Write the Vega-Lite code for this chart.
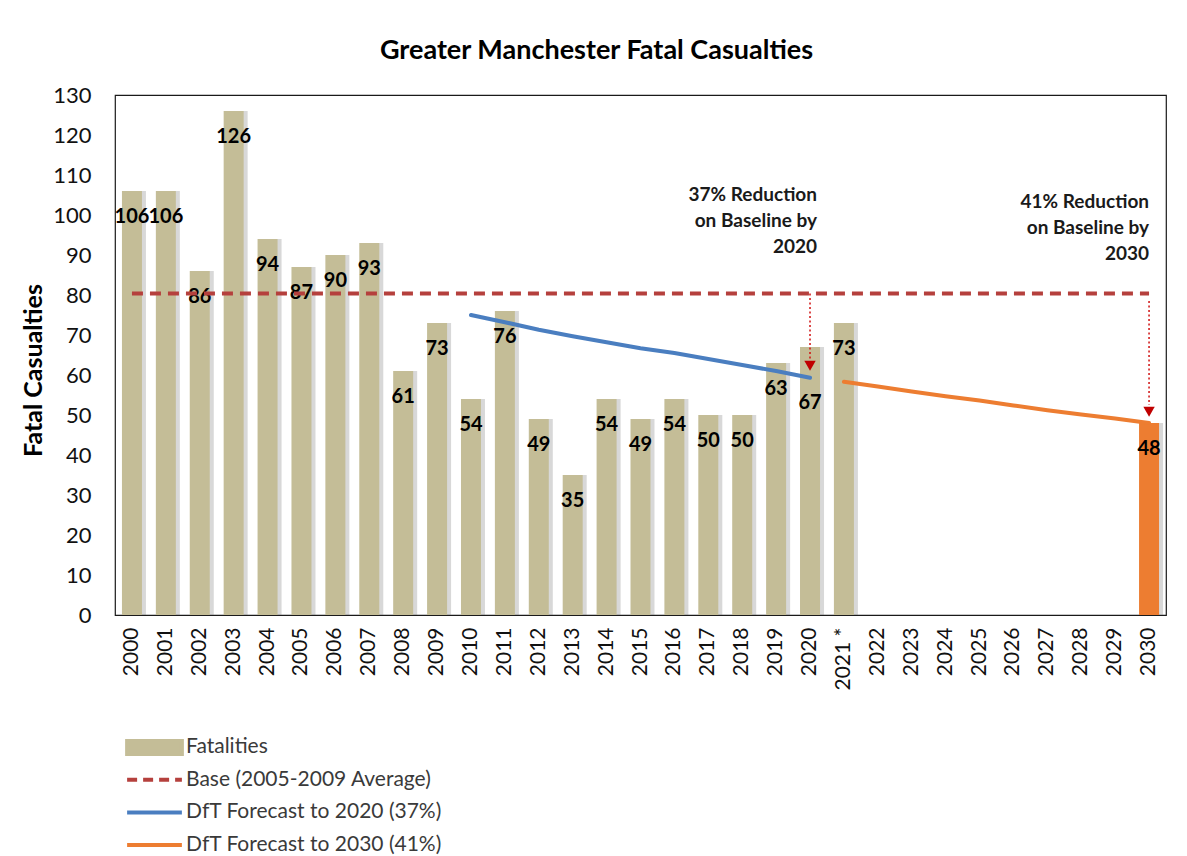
{
  "$schema": "https://vega.github.io/schema/vega-lite/v6.json",
  "width": 1051,
  "height": 520,
  "autosize": {"type": "none"},
  "padding": {"left": 115, "top": 95, "right": 21, "bottom": 241},
  "background": "#ffffff",
  "config": {
    "font": "Lato",
    "view": {"stroke": "#1a1a1a", "strokeWidth": 1.2},
    "axis": {"grid": false, "ticks": false, "domain": false, "labelFont": "Lato", "titleFont": "Lato", "labelColor": "#111111", "titleColor": "#000000", "labelOverlap": false, "labelFlush": false}
  },
  "title": {
    "text": "Greater Manchester Fatal Casualties",
    "font": "Lato",
    "fontSize": 27,
    "fontWeight": "bold",
    "color": "#000000",
    "anchor": "middle",
    "dx": -44,
    "offset": 19
  },
  "datasets": {
    "bars": [
      {"year": "2000", "value": 106, "series": "Fatalities"},
      {"year": "2001", "value": 106, "series": "Fatalities"},
      {"year": "2002", "value": 86, "series": "Fatalities"},
      {"year": "2003", "value": 126, "series": "Fatalities"},
      {"year": "2004", "value": 94, "series": "Fatalities"},
      {"year": "2005", "value": 87, "series": "Fatalities"},
      {"year": "2006", "value": 90, "series": "Fatalities"},
      {"year": "2007", "value": 93, "series": "Fatalities"},
      {"year": "2008", "value": 61, "series": "Fatalities"},
      {"year": "2009", "value": 73, "series": "Fatalities"},
      {"year": "2010", "value": 54, "series": "Fatalities"},
      {"year": "2011", "value": 76, "series": "Fatalities"},
      {"year": "2012", "value": 49, "series": "Fatalities"},
      {"year": "2013", "value": 35, "series": "Fatalities"},
      {"year": "2014", "value": 54, "series": "Fatalities"},
      {"year": "2015", "value": 49, "series": "Fatalities"},
      {"year": "2016", "value": 54, "series": "Fatalities"},
      {"year": "2017", "value": 50, "series": "Fatalities"},
      {"year": "2018", "value": 50, "series": "Fatalities"},
      {"year": "2019", "value": 63, "series": "Fatalities"},
      {"year": "2020", "value": 67, "series": "Fatalities"},
      {"year": "2021 *", "value": 73, "series": "Fatalities"},
      {"year": "2030", "value": 48, "series": "Fatalities"}
    ],
    "base": [
      {"year": "2000", "value": 80.4, "series": "Base (2005-2009 Average)"},
      {"year": "2030", "value": 80.4, "series": "Base (2005-2009 Average)"}
    ],
    "forecast": [
      {"year": "2010", "value": 75.0, "series": "DfT Forecast to 2020 (37%)"},
      {"year": "2011", "value": 73.2, "series": "DfT Forecast to 2020 (37%)"},
      {"year": "2012", "value": 71.3, "series": "DfT Forecast to 2020 (37%)"},
      {"year": "2013", "value": 69.7, "series": "DfT Forecast to 2020 (37%)"},
      {"year": "2014", "value": 68.2, "series": "DfT Forecast to 2020 (37%)"},
      {"year": "2015", "value": 66.7, "series": "DfT Forecast to 2020 (37%)"},
      {"year": "2016", "value": 65.5, "series": "DfT Forecast to 2020 (37%)"},
      {"year": "2017", "value": 64.0, "series": "DfT Forecast to 2020 (37%)"},
      {"year": "2018", "value": 62.5, "series": "DfT Forecast to 2020 (37%)"},
      {"year": "2019", "value": 61.0, "series": "DfT Forecast to 2020 (37%)"},
      {"year": "2020", "value": 59.3, "series": "DfT Forecast to 2020 (37%)"},
      {"year": "2021 *", "value": 58.3, "series": "DfT Forecast to 2030 (41%)"},
      {"year": "2022", "value": 57.1, "series": "DfT Forecast to 2030 (41%)"},
      {"year": "2023", "value": 55.9, "series": "DfT Forecast to 2030 (41%)"},
      {"year": "2024", "value": 54.7, "series": "DfT Forecast to 2030 (41%)"},
      {"year": "2025", "value": 53.6, "series": "DfT Forecast to 2030 (41%)"},
      {"year": "2026", "value": 52.4, "series": "DfT Forecast to 2030 (41%)"},
      {"year": "2027", "value": 51.2, "series": "DfT Forecast to 2030 (41%)"},
      {"year": "2028", "value": 50.1, "series": "DfT Forecast to 2030 (41%)"},
      {"year": "2029", "value": 49.1, "series": "DfT Forecast to 2030 (41%)"},
      {"year": "2030", "value": 48.0, "series": "DfT Forecast to 2030 (41%)"}
    ],
    "arrows": [
      {"year": "2020", "from": 80.4, "to": 64.0, "tip": 62.3},
      {"year": "2030", "from": 78.5, "to": 52.5, "tip": 50.8}
    ],
    "notes": [
      {"year": "2020", "value": 107.3, "text": "37% Reduction\non Baseline by\n2020", "shift": "a"},
      {"year": "2030", "value": 105.5, "text": "41% Reduction\non Baseline by\n2030", "shift": "b"}
    ]
  },
  "encoding": {
    "x": {
      "field": "year",
      "type": "ordinal",
      "scale": {
        "domain": ["2000","2001","2002","2003","2004","2005","2006","2007","2008","2009","2010","2011","2012","2013","2014","2015","2016","2017","2018","2019","2020","2021 *","2022","2023","2024","2025","2026","2027","2028","2029","2030"],
        "paddingInner": 0.41,
        "paddingOuter": 0.205
      },
      "axis": {"title": null, "labelAngle": -90, "labelFontSize": 21, "labelPadding": 12, "labelAlign": "right", "labelBaseline": "middle"}
    }
  },
  "layer": [
    {
      "data": {"name": "bars"},
      "mark": {"type": "bar", "xOffset": 4, "color": "#7f7f7f", "opacity": 0.3},
      "encoding": {
        "y": {
          "field": "value",
          "type": "quantitative",
          "scale": {"domain": [0, 130], "nice": false},
          "axis": {
            "values": [0,10,20,30,40,50,60,70,80,90,100,110,120,130],
            "tickCount": 14,
            "labelOverlap": false,
            "labelFlush": false,
            "labelFontSize": 22,
            "labelPadding": 24,
            "title": "Fatal Casualties",
            "titleFontSize": 25,
            "titleFontWeight": "bold",
            "titlePadding": 6,
            "titleY": 275
          }
        }
      }
    },
    {
      "data": {"name": "bars"},
      "mark": {"type": "bar"},
      "encoding": {
        "y": {"field": "value", "type": "quantitative"},
        "color": {
          "condition": {"test": "datum.year === '2030'", "value": "#ED7D31"},
          "field": "series",
          "type": "nominal",
          "scale": {
            "domain": ["Fatalities", "Base (2005-2009 Average)", "DfT Forecast to 2020 (37%)", "DfT Forecast to 2030 (41%)"],
            "range": ["#C4BD97", "#B5403D", "#4A7EC0", "#ED7D31"]
          },
          "legend": {
            "title": null,
            "orient": "none",
            "legendX": 10,
            "legendY": 644,
            "direction": "vertical",
            "padding": 0,
            "labelFont": "Lato",
            "labelFontSize": 21,
            "labelColor": "#3a3a3a",
            "labelLimit": 500,
            "labelOffset": 2,
            "symbolSize": 3000,
            "clipHeight": 16,
            "rowPadding": 11.7,
            "encode": {
              "symbols": {
                "update": {
                  "shape": {"signal": "datum.value === 'Fatalities' ? 'M-1,-0.26L1,-0.26L1,0.26L-1,0.26Z' : 'stroke'"},
                  "fill": {"signal": "datum.value === 'Fatalities' ? '#C4BD97' : 'transparent'"},
                  "stroke": {"signal": "datum.value === 'Fatalities' ? 'transparent' : scale('color', datum.value)"},
                  "strokeWidth": {"value": 4},
                  "strokeDash": {"signal": "datum.value === 'Base (2005-2009 Average)' ? [10, 6] : [1, 0]"},
                  "opacity": {"value": 1}
                }
              }
            }
          }
        }
      }
    },
    {
      "data": {"name": "bars"},
      "transform": [{"filter": "datum.year !== '2020'"}],
      "mark": {"type": "text", "baseline": "middle", "dy": 26, "font": "Lato", "fontSize": 20, "fontWeight": "bold", "color": "#000000"},
      "encoding": {
        "y": {"field": "value", "type": "quantitative"},
        "text": {"field": "value", "type": "quantitative"}
      }
    },
    {
      "data": {"name": "bars"},
      "transform": [{"filter": "datum.year === '2020'"}],
      "mark": {"type": "text", "baseline": "middle", "dy": 56, "font": "Lato", "fontSize": 20, "fontWeight": "bold", "color": "#000000"},
      "encoding": {
        "y": {"field": "value", "type": "quantitative"},
        "text": {"field": "value", "type": "quantitative"}
      }
    },
    {
      "data": {"name": "base"},
      "mark": {"type": "line", "strokeWidth": 4, "strokeDash": [11, 7]},
      "encoding": {
        "y": {"field": "value", "type": "quantitative"},
        "color": {"field": "series", "type": "nominal"}
      }
    },
    {
      "data": {"name": "forecast"},
      "mark": {"type": "line", "strokeWidth": 4, "strokeCap": "round"},
      "encoding": {
        "y": {"field": "value", "type": "quantitative"},
        "color": {"field": "series", "type": "nominal"}
      }
    },
    {
      "data": {"name": "arrows"},
      "mark": {"type": "rule", "color": "#D01010", "strokeWidth": 1.5, "strokeDash": [2, 2.5]},
      "encoding": {
        "y": {"field": "from", "type": "quantitative"},
        "y2": {"field": "to"}
      }
    },
    {
      "data": {"name": "arrows"},
      "mark": {"type": "point", "shape": "triangle-down", "filled": true, "color": "#C00000", "size": 130, "opacity": 1},
      "encoding": {
        "y": {"field": "tip", "type": "quantitative"}
      }
    },
    {
      "data": {"name": "notes"},
      "transform": [{"filter": "datum.shift === 'a'"}],
      "mark": {"type": "text", "align": "right", "baseline": "top", "dx": 7, "lineBreak": "\n", "lineHeight": 26, "font": "Lato", "fontSize": 19, "fontWeight": "bold", "color": "#1a1a1a"},
      "encoding": {
        "y": {"field": "value", "type": "quantitative"},
        "text": {"field": "text"}
      }
    },
    {
      "data": {"name": "notes"},
      "transform": [{"filter": "datum.shift === 'b'"}],
      "mark": {"type": "text", "align": "right", "baseline": "top", "dx": 0, "lineBreak": "\n", "lineHeight": 26, "font": "Lato", "fontSize": 19, "fontWeight": "bold", "color": "#1a1a1a"},
      "encoding": {
        "y": {"field": "value", "type": "quantitative"},
        "text": {"field": "text"}
      }
    }
  ]
}
